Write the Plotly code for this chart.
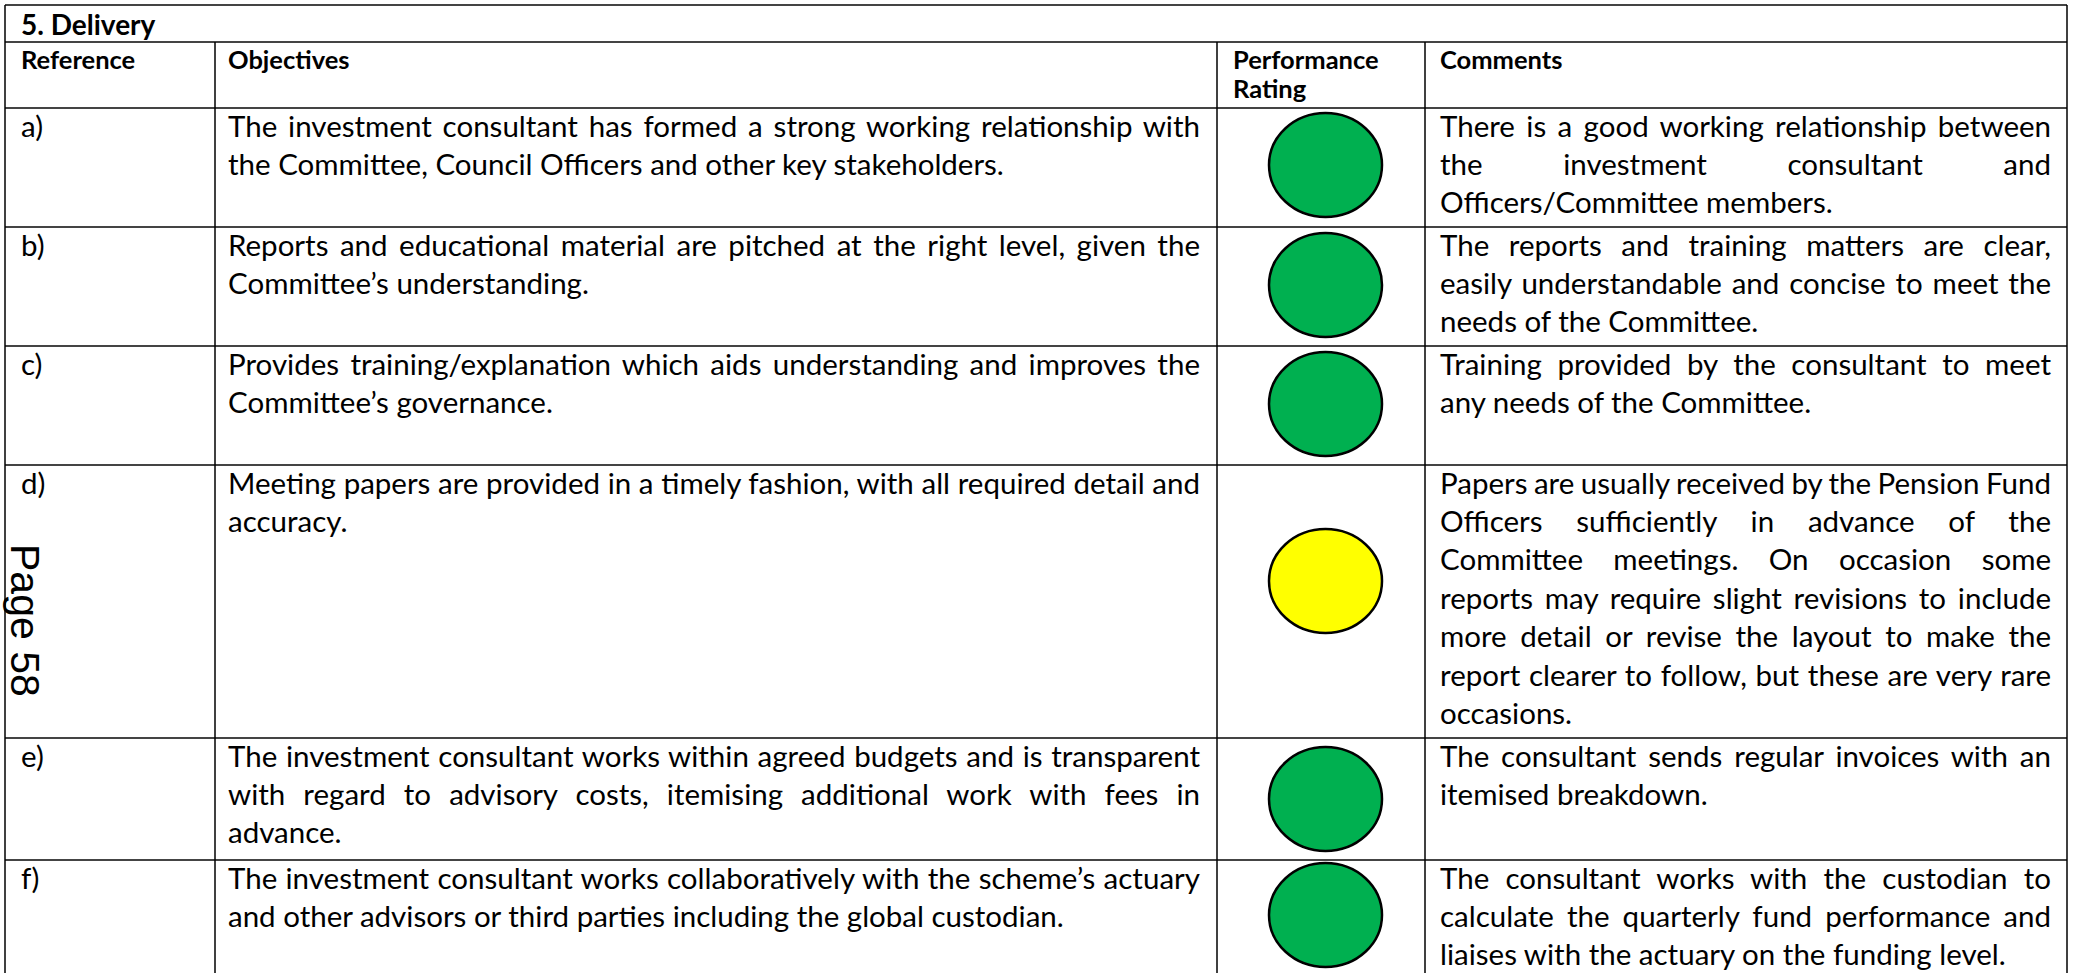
import json
import plotly.graph_objects as go

# ---------------- data ----------------
section_title = "5. Delivery"
headers = ["Reference", "Objectives", "Performance Rating", "Comments"]
refs = ["a)", "b)", "c)", "d)", "e)", "f)"]
objectives = [
    ["The investment consultant has formed a strong working relationship with",
     "the Committee, Council Officers and other key stakeholders."],
    ["Reports and educational material are pitched at the right level, given the",
     "Committee\u2019s understanding."],
    ["Provides training/explanation which aids understanding and improves the",
     "Committee\u2019s governance."],
    ["Meeting papers are provided in a timely fashion, with all required detail and",
     "accuracy."],
    ["The investment consultant works within agreed budgets and is transparent",
     "with regard to advisory costs, itemising additional work with fees in",
     "advance."],
    ["The investment consultant works collaboratively with the scheme\u2019s actuary",
     "and other advisors or third parties including the global custodian."],
]
ratings = ["Green", "Green", "Green", "Amber", "Green", "Green"]
comments = [
    ["There is a good working relationship between",
     "the investment consultant and",
     "Officers/Committee members."],
    ["The reports and training matters are clear,",
     "easily understandable and concise to meet the",
     "needs of the Committee."],
    ["Training provided by the consultant to meet",
     "any needs of the Committee."],
    ["Papers are usually received by the Pension Fund",
     "Officers sufficiently in advance of the",
     "Committee meetings. On occasion some",
     "reports may require slight revisions to include",
     "more detail or revise the layout to make the",
     "report clearer to follow, but these are very rare",
     "occasions."],
    ["The consultant sends regular invoices with an",
     "itemised breakdown."],
    ["The consultant works with the custodian to",
     "calculate the quarterly fund performance and",
     "liaises with the actuary on the funding level."],
]
page_label = "Page 58"

# ---------------- layout / style constants ----------------
W, H = 2078, 973
rating_colours = {"Green": "#00B050", "Amber": "#FFFF00"}
col_x = [5, 215, 1217, 1425, 2067]
table_top, title_bottom, header_bottom = 5, 42, 108
row_tops = [108, 227, 346, 465, 738, 860]
ellipse_offset = [5, 6, 6, 64, 9, 3]
ellipse_w, ellipse_h = 113, 104
ellipse_cx = 1325.5
line_gap = 38.4
first_line = 17
ref_x, obj_x, perf_x, com_x = 21, 228, 1233, 1440
obj_right, com_right = 1200, 2051
BODY = dict(family="Lato, Carlito, Calibri, sans-serif", size=29.5, color="#000")
HEAD = dict(family="Lato, Carlito, Calibri, sans-serif", size=25.5, color="#000")
HLINE = dict(color="#444", width=2)
VLINE = dict(color="#000", width=1.5)

fig = go.Figure()
shapes = []
annotations = []
justify = []


def add_text(text, x, y, font, bold=False, just_width=None):
    t = f"<b>{text}</b>" if bold else text
    annotations.append(dict(
        x=x, y=y, xref="x", yref="y", text=t, showarrow=False,
        xanchor="left", yanchor="middle", align="left",
        font=font, borderpad=0, borderwidth=0))
    if just_width is not None:
        justify.append([len(annotations) - 1, just_width])


# horizontal lines
for y in [table_top, title_bottom, header_bottom] + row_tops[1:]:
    shapes.append(dict(type="line", xref="x", yref="y", x0=col_x[0], x1=col_x[-1],
                       y0=y, y1=y, line=HLINE))
# vertical lines
for i, x in enumerate(col_x):
    y0 = table_top if i in (0, len(col_x) - 1) else title_bottom
    shapes.append(dict(type="line", xref="x", yref="y", x0=x, x1=x,
                       y0=y0, y1=H, line=VLINE))

# title + headers
title_font = dict(HEAD, size=28)
add_text(section_title, ref_x, (table_top + title_bottom) / 2, title_font, bold=True)
hx = [ref_x, obj_x, perf_x, com_x]
for h, x in zip(headers, hx):
    words = h.split(" ")
    if h.startswith("Performance"):
        add_text(words[0], x, 59, HEAD, bold=True)
        add_text(words[1], x, 88, HEAD, bold=True)
    else:
        add_text(h, x, 59, HEAD, bold=True)

# body rows
for i, top in enumerate(row_tops):
    y1 = top + first_line
    add_text(refs[i], ref_x, y1, BODY)
    for k, line in enumerate(objectives[i]):
        last = k == len(objectives[i]) - 1
        add_text(line, obj_x, y1 + k * line_gap, BODY,
                 just_width=None if last else obj_right - obj_x)
    for k, line in enumerate(comments[i]):
        last = k == len(comments[i]) - 1
        add_text(line, com_x, y1 + k * line_gap, BODY,
                 just_width=None if last else com_right - com_x)
    ey0 = top + ellipse_offset[i]
    shapes.append(dict(type="circle", xref="x", yref="y",
                       x0=ellipse_cx - ellipse_w / 2, x1=ellipse_cx + ellipse_w / 2,
                       y0=ey0, y1=ey0 + ellipse_h,
                       fillcolor=rating_colours[ratings[i]],
                       line=dict(color="#000", width=2.5), layer="above"))

# rotated page label
annotations.append(dict(x=25, y=620, xref="x", yref="y", text=page_label,
                        showarrow=False, textangle=90, xanchor="center", yanchor="middle",
                        font=dict(family="Liberation Sans, Arial, sans-serif", size=41,
                                  color="#000")))

fig.update_layout(
    width=W, height=H, margin=dict(l=0, r=0, t=0, b=0),
    paper_bgcolor="white", plot_bgcolor="white",
    xaxis=dict(range=[0, W], visible=False, fixedrange=True),
    yaxis=dict(range=[H, 0], visible=False, fixedrange=True),
    shapes=shapes, annotations=annotations, showlegend=False,
)

post = """
document.body.style.margin='0';
document.body.style.overflow='hidden';
var gd=document.getElementById('{plot_id}');
var J=%s;
J.forEach(function(p){
  var t=gd.querySelector('.annotation[data-index="'+p[0]+'"] text.annotation-text');
  if(!t) return;
  var s=t.textContent; var n=(s.match(/ /g)||[]).length;
  if(n<1) return;
  t.style.wordSpacing='0px';
  var w=t.getComputedTextLength();
  t.style.wordSpacing=((p[1]-w)/n)+'px';
});
""" % json.dumps(justify)

fig.write_html("out.html", post_script=post, config={"displayModeBar": False})
